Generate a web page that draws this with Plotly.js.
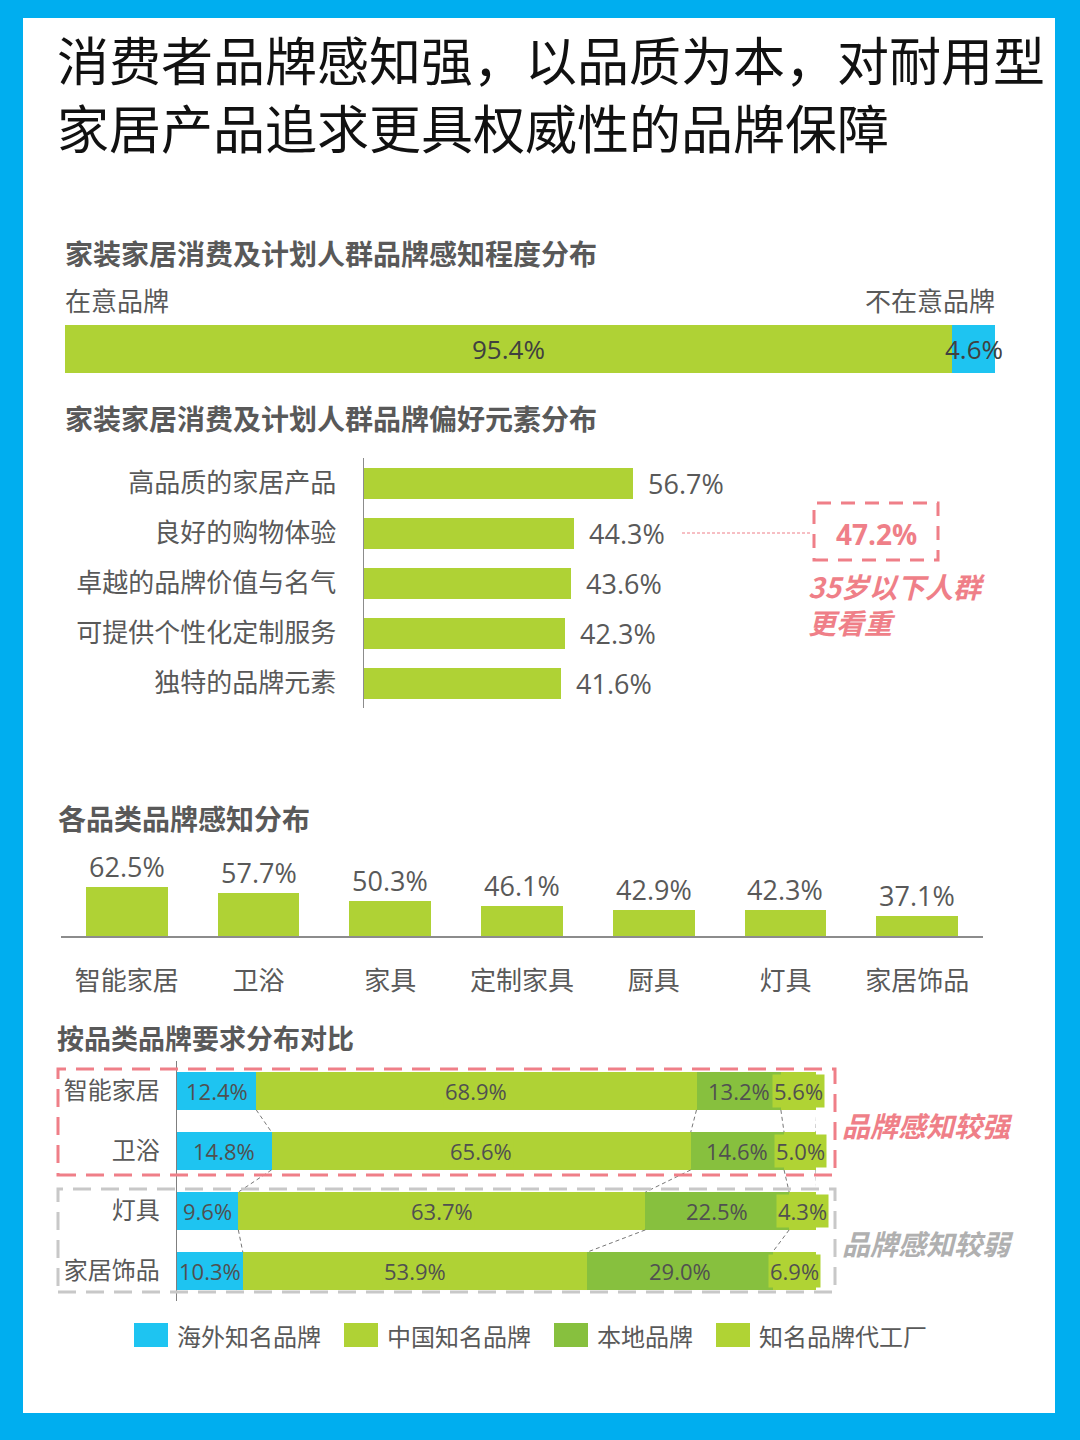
<!DOCTYPE html>
<html>
<head>
<meta charset="utf-8">
<script src="https://cdn.plot.ly/plotly-3.0.1.min.js"></script>
<style>
  html, body { margin: 0; padding: 0; background: #00AEEF; }
  #chart { width: 1080px; height: 1440px; }
</style>
</head>
<body>
<div id="chart"></div>
<script>
// data
var awareLabels = ['在意品牌', '不在意品牌'];
var awareValues = [95.4, 4.6];

var prefCats = ['高品质的家居产品', '良好的购物体验', '卓越的品牌价值与名气', '可提供个性化定制服务', '独特的品牌元素'];
var prefValues = [56.7, 44.3, 43.6, 42.3, 41.6];
var under35Value = 47.2;

var catNames = ['智能家居', '卫浴', '家具', '定制家具', '厨具', '灯具', '家居饰品'];
var catValues = [62.5, 57.7, 50.3, 46.1, 42.9, 42.3, 37.1];

var reqCats = ['智能家居', '卫浴', '灯具', '家居饰品'];
var reqSeries = ['海外知名品牌', '中国知名品牌', '本地品牌', '知名品牌代工厂'];
var overseas = [12.4, 14.8, 9.6, 10.3];
var chinaBrand = [68.9, 65.6, 63.7, 53.9];
var localBrand = [13.2, 14.6, 22.5, 29.0];
var oemFactory = [5.6, 5.0, 4.3, 6.9];

var W = 1080, H = 1440;
var BLUE = '#1EC4F1', GREEN = '#AFD235', DARK = '#87C03E', OEM = '#B0D334';
var PINK = '#EF7F88', GREYTXT = '#595959';
var FONT = "'Open Sans', 'Noto Sans CJK SC', sans-serif";
var CJK = "'Noto Sans CJK SC', sans-serif";

function px(x) { return x / W; }
function py(y) { return 1 - y / H; }

var annotations = [];
var shapes = [];

function label(x, y, text, size, color, opts) {
    opts = opts || {};
    annotations.push({
        xref: 'paper', yref: 'paper', x: px(x), y: py(y),
        xanchor: opts.anchor || 'left', yanchor: 'middle', align: opts.anchor === 'right' ? 'right' : 'left',
        text: text, showarrow: false,
        font: { family: opts.family || FONT, size: size, color: color, weight: opts.weight || 'normal', style: opts.style || 'normal' }
    });
}

// white card
shapes.push({ type: 'rect', xref: 'paper', yref: 'paper', x0: px(23), x1: px(1055), y0: py(1413), y1: py(18),
    fillcolor: '#ffffff', line: { width: 0 }, layer: 'below' });

// headings
label(55, 93, '消费者品牌感知强，以品质为本，对耐用型<br>家居产品追求更具权威性的品牌保障', 52, '#111111', { family: CJK });
label(63, 253, '家装家居消费及计划人群品牌感知程度分布', 28, GREYTXT, { family: CJK, weight: 'bold' });
label(63, 299, awareLabels[0], 26, GREYTXT, { family: CJK });
label(997, 299, awareLabels[1], 26, GREYTXT, { family: CJK, anchor: 'right' });
label(63, 418, '家装家居消费及计划人群品牌偏好元素分布', 28, GREYTXT, { family: CJK, weight: 'bold' });
label(56, 818, '各品类品牌感知分布', 28, GREYTXT, { family: CJK, weight: 'bold' });
label(55, 1037, '按品类品牌要求分布对比', 27, GREYTXT, { family: CJK, weight: 'bold' });

var traces = [];

// 1. aware / not aware stacked bar
var awareColors = [GREEN, BLUE];
var acc = 0;
for (var i = 0; i < awareValues.length; i++) {
    traces.push({
        type: 'bar', orientation: 'h', x: [awareValues[i]], y: ['all'], width: 1,
        marker: { color: awareColors[i] }, xaxis: 'x', yaxis: 'y', hoverinfo: 'skip', showlegend: false
    });
    annotations.push({
        xref: 'x', yref: 'y', x: acc + awareValues[i] / 2, y: 'all', text: awareValues[i].toFixed(1) + '%',
        showarrow: false, font: { family: FONT, size: 26, color: '#404040' }
    });
    acc += awareValues[i];
}

// 2. preference elements
traces.push({
    type: 'bar', orientation: 'h', x: prefValues, y: prefCats, width: 0.62,
    marker: { color: GREEN }, xaxis: 'x2', yaxis: 'y2', hoverinfo: 'skip', showlegend: false
});
prefValues.forEach(function (v, k) {
    annotations.push({
        xref: 'x2', yref: 'y2', x: v, y: prefCats[k], xanchor: 'left', xshift: 13,
        text: v.toFixed(1) + '%', showarrow: false, font: { family: FONT, size: 27, color: GREYTXT }
    });
});
// under-35 callout
shapes.push({ type: 'line', xref: 'paper', yref: 'y2', x0: px(682), x1: px(812), y0: prefCats[1], y1: prefCats[1],
    line: { color: PINK, width: 1, dash: '3px,2px' } });
shapes.push({ type: 'rect', xref: 'paper', yref: 'paper', x0: px(814), x1: px(938), y0: py(560), y1: py(503),
    line: { color: PINK, width: 3, dash: '14px,10px' } });
label(876, 534, under35Value.toFixed(1) + '%', 28, PINK, { anchor: 'center', weight: 'bold' });
label(806, 604, '35岁以下人群<br>更看重', 28, PINK, { family: CJK, weight: 'bold', style: 'italic' });

// 3. brand awareness by category
traces.push({
    type: 'bar', x: catNames, y: catValues, width: 0.62,
    marker: { color: GREEN }, xaxis: 'x3', yaxis: 'y3', hoverinfo: 'skip', showlegend: false
});
catValues.forEach(function (v, k) {
    annotations.push({
        xref: 'x3', yref: 'y3', x: catNames[k], y: v, yanchor: 'bottom', yshift: 0,
        text: v.toFixed(1) + '%', showarrow: false, font: { family: FONT, size: 27, color: GREYTXT }
    });
});

// 4. brand requirement by category
var reqValues = [overseas, chinaBrand, localBrand, oemFactory];
var reqColors = [BLUE, GREEN, DARK, OEM];
var cum = reqCats.map(function () { return [0]; });
for (var s = 0; s < reqValues.length; s++) {
    traces.push({
        type: 'bar', orientation: 'h', name: reqSeries[s], x: reqValues[s], y: reqCats, width: 0.63,
        marker: { color: reqColors[s] }, xaxis: 'x4', yaxis: 'y4', hoverinfo: 'skip', showlegend: false
    });
    for (var r = 0; r < reqCats.length; r++) {
        var start = cum[r][s];
        var v = reqValues[s][r];
        annotations.push({
            xref: 'x4', yref: 'y4', x: start + v / 2, y: reqCats[r], text: v.toFixed(1) + '%',
            showarrow: false, bgcolor: reqColors[s], borderpad: 1,
            font: { family: FONT, size: 22, color: '#505050' }
        });
        cum[r].push(start + v);
    }
}
// dashed connectors between neighbouring rows
for (var r2 = 0; r2 < reqCats.length - 1; r2++) {
    for (var b = 1; b <= reqValues.length; b++) {
        shapes.push({ type: 'line', xref: 'x4', yref: 'y4',
            x0: cum[r2][b], y0: r2 + 0.315, x1: cum[r2 + 1][b], y1: r2 + 1 - 0.315,
            line: { color: '#777777', width: 1, dash: '4px,3px' } });
    }
}
// group boxes
shapes.push({ type: 'rect', xref: 'paper', yref: 'paper', x0: px(58), x1: px(835), y0: py(1175), y1: py(1069),
    line: { color: PINK, width: 3, dash: '18px,10px' } });
shapes.push({ type: 'rect', xref: 'paper', yref: 'paper', x0: px(58), x1: px(835), y0: py(1292), y1: py(1189),
    line: { color: '#C8C8C8', width: 3, dash: '18px,10px' } });
label(840, 1125, '品牌感知较强', 28, PINK, { family: CJK, weight: 'bold', style: 'italic' });
label(840, 1243, '品牌感知较弱', 28, '#B0B0B0', { family: CJK, weight: 'bold', style: 'italic' });

// legend
var lx = 134;
for (var s2 = 0; s2 < reqSeries.length; s2++) {
    shapes.push({ type: 'rect', xref: 'paper', yref: 'paper', x0: px(lx), x1: px(lx + 34), y0: py(1347), y1: py(1323),
        fillcolor: reqColors[s2], line: { width: 0 } });
    label(lx + 41, 1335, reqSeries[s2], 24, GREYTXT, { family: CJK });
    lx += 34 + 10 + reqSeries[s2].length * 24 + 22;
}

var layout = {
    width: W, height: H,
    margin: { l: 0, r: 0, t: 0, b: 0 },
    paper_bgcolor: '#00AEEF',
    plot_bgcolor: 'rgba(0,0,0,0)',
    barmode: 'stack',
    bargap: 0,
    showlegend: false,
    font: { family: FONT, color: GREYTXT },
    xaxis: { domain: [px(65), px(995)], range: [0, 100], visible: false, anchor: 'y' },
    yaxis: { domain: [py(373), py(325)], type: 'category', range: [-0.5, 0.5], visible: false, anchor: 'x' },
    xaxis2: { domain: [px(364), px(838.5)], range: [0, 100], visible: false, anchor: 'y2' },
    yaxis2: { domain: [py(708), py(458)], type: 'category', range: [4.5, -0.5], anchor: 'x2',
        showline: true, linecolor: '#8c8c8c', linewidth: 1.5, ticks: '', showgrid: false, zeroline: false,
        ticklabelstandoff: 21, tickfont: { family: CJK, size: 26, color: GREYTXT } },
    xaxis3: { domain: [px(61), px(983)], type: 'category', range: [-0.5, 6.5], anchor: 'y3',
        showline: true, linecolor: '#8c8c8c', linewidth: 1.5, ticks: '', showgrid: false,
        ticklabelstandoff: 21, tickfont: { family: CJK, size: 26, color: GREYTXT } },
    yaxis3: { domain: [py(936), py(850)], range: [20, 95], visible: false, anchor: 'x3' },
    xaxis4: { domain: [px(177), px(816)], range: [0, 100], visible: false, anchor: 'y4' },
    yaxis4: { domain: [py(1301), py(1061)], type: 'category', range: [3.5, -0.5], anchor: 'x4',
        showline: true, linecolor: '#7f7f7f', linewidth: 1.5, ticks: '', showgrid: false, zeroline: false,
        ticklabelstandoff: 11, tickfont: { family: CJK, size: 24, color: GREYTXT } },
    shapes: shapes,
    annotations: annotations
};

Plotly.newPlot('chart', traces, layout, { staticPlot: true, displayModeBar: false });
</script>
</body>
</html>
